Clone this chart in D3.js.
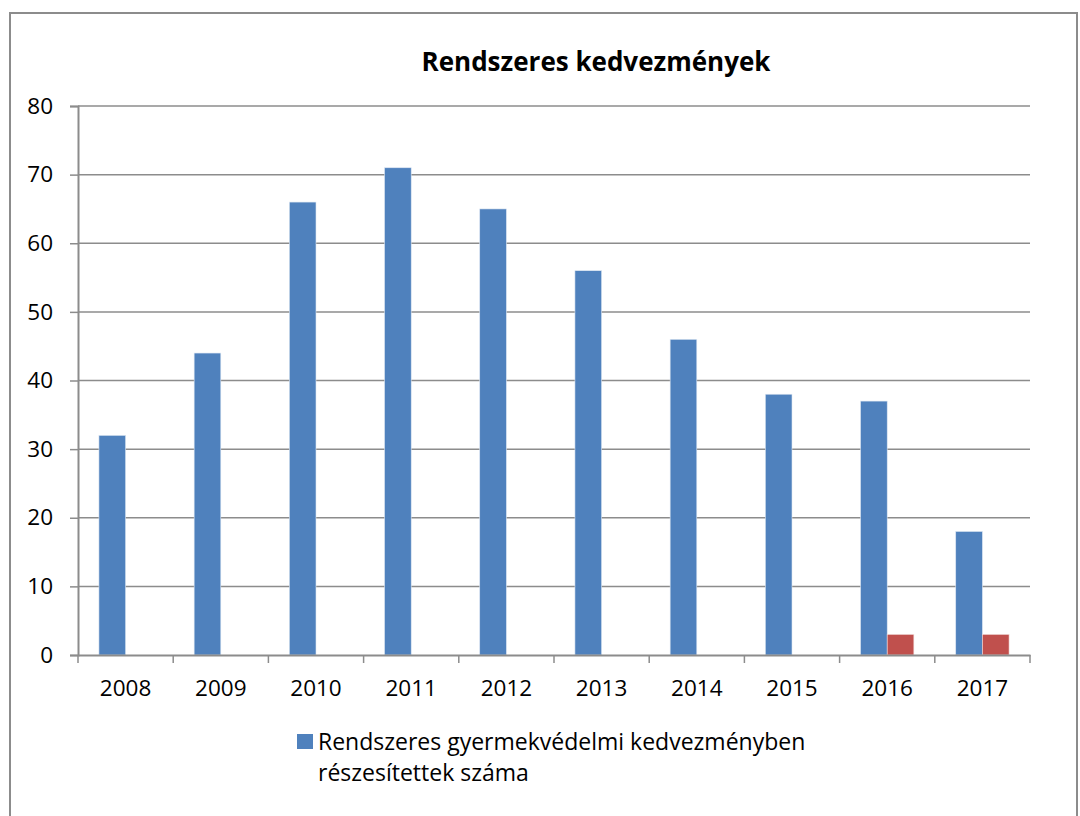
<!DOCTYPE html>
<html><head><meta charset="utf-8">
<script src="https://cdn.jsdelivr.net/npm/d3@7"></script>
<style>body{margin:0;background:#fff;} text{font-family:"Open Sans",sans-serif;}</style>
</head><body>
<svg id="chart" width="1080" height="816"></svg>
<script>
const years = ["2008","2009","2010","2011","2012","2013","2014","2015","2016","2017"];
const seriesA = [32,44,66,71,65,56,46,38,37,18];
const seriesB = [null,null,null,null,null,null,null,null,3,3];
const yTicks = [0,10,20,30,40,50,60,70,80];
const titleText = "Rendszeres kedvezmények";
const legendLines = ["Rendszeres gyermekvédelmi kedvezményben","részesítettek száma"];

const svg = d3.select("#chart");
svg.append("rect").attr("x",10).attr("y",13).attr("width",1067).attr("height",820)
  .attr("fill","#fff").attr("stroke","#8c8c8c").attr("stroke-width",2);

const m = {l:78, r:1030, t:106, b:655};
const x = d3.scaleBand().domain(years).range([m.l,m.r]);
const y = d3.scaleLinear().domain([0,80]).range([m.b,m.t]);
const bw = x.bandwidth()*0.28;

// gridlines
svg.append("g").selectAll("line").data(yTicks.filter(d=>d>0)).join("line")
  .attr("x1",m.l).attr("x2",m.r).attr("y1",d=>y(d)).attr("y2",d=>y(d))
  .attr("stroke","#8c8c8c").attr("stroke-width",1.5);

// y axis
const ya = svg.append("g").attr("transform",`translate(${m.l},0)`)
  .call(d3.axisLeft(y).tickValues(yTicks).tickSize(8).tickPadding(17));
ya.select(".domain").attr("stroke","#8c8c8c").attr("stroke-width",2);
ya.selectAll(".tick line").attr("stroke","#8c8c8c").attr("stroke-width",1.5);
ya.selectAll("text").attr("font-size",22.5).attr("fill","#000").attr("font-family","Open Sans");

// bars
svg.append("g").selectAll("rect").data(years).join("rect")
  .attr("x",d=>x(d)+x.bandwidth()/2-bw).attr("width",bw)
  .attr("y",(d,i)=>y(seriesA[i])).attr("height",(d,i)=>y(0)-y(seriesA[i]))
  .attr("fill","#4F81BD").attr("stroke","#dce6f2").attr("stroke-width",0.6);
svg.append("g").selectAll("rect").data(years.filter((d,i)=>seriesB[i]!=null)).join("rect")
  .attr("x",d=>x(d)+x.bandwidth()/2).attr("width",bw)
  .attr("y",d=>y(seriesB[years.indexOf(d)])).attr("height",d=>y(0)-y(seriesB[years.indexOf(d)]))
  .attr("fill","#C0504D").attr("stroke","#f2dcdb").attr("stroke-width",0.6);

// x axis
const xa = svg.append("g").attr("transform",`translate(0,${m.b})`)
  .call(d3.axisBottom(x).tickSize(0).tickPadding(25));
xa.select(".domain").attr("stroke","#8c8c8c").attr("stroke-width",2);
xa.selectAll("text").attr("font-size",22.5).attr("fill","#000").attr("font-family","Open Sans");
svg.append("g").selectAll("line").data(d3.range(years.length+1)).join("line")
  .attr("x1",i=>m.l+i*x.step()).attr("x2",i=>m.l+i*x.step())
  .attr("y1",m.b).attr("y2",m.b+8).attr("stroke","#8c8c8c").attr("stroke-width",1.5);

// title
svg.append("text").attr("x",596).attr("y",71).attr("text-anchor","middle")
  .attr("font-size",26).attr("font-weight","bold").text(titleText);

// legend
svg.append("rect").attr("x",297).attr("y",734).attr("width",16).attr("height",15).attr("fill","#4F81BD");
svg.append("text").attr("font-size",23).selectAll("tspan").data(legendLines).join("tspan")
  .attr("x",318).attr("y",(d,i)=>750+i*31).text(d=>d);
</script>
</body></html>
